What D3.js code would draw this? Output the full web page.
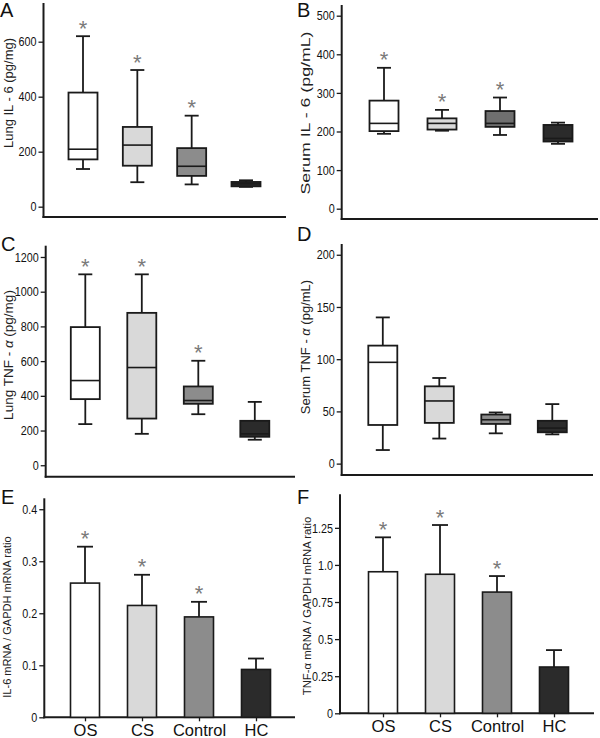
<!DOCTYPE html>
<html>
<head>
<meta charset="utf-8">
<script src="https://cdn.jsdelivr.net/npm/d3@7"></script>
<style>
body { margin: 0; background: #fff; }
text { font-family: "Liberation Sans", Arial, sans-serif; }
</style>
</head>
<body>
<div class="canvas"></div>
<script>
var groups = ["OS", "CS", "Control", "HC"];

// box plots: [min, q1, median, q3, max]
var lungIL6 = [[137, 172, 209, 415, 620], [89, 149, 224, 290, 497], [81, 112, 147, 213, 331], [72, 74, 83, 90, 96]];
var serumIL6 = [[194, 201, 221, 280, 365], [202, 205, 221, 234, 256], [191, 212, 221, 253, 288], [168, 174, 182, 217, 223]];
var lungTNF = [[237, 381, 488, 796, 1100], [181, 269, 563, 878, 1100], [294, 354, 373, 454, 602], [147, 164, 181, 256, 365]];
var serumTNF = [[13, 37, 97, 113, 140], [24, 39, 60, 74, 82], [29, 38, 42, 47, 49], [28, 30, 34, 41, 57]];

// bar charts: mean and upper error
var il6mRNA = [0.258, 0.215, 0.193, 0.092];
var il6Err = [0.070, 0.059, 0.029, 0.021];
var tnfmRNA = [0.954, 0.937, 0.817, 0.312];
var tnfErr = [0.232, 0.332, 0.108, 0.114];

var starred = [true, true, true, false];
var noStars = [false, false, false, false];

var ticksA = [0, 200, 400, 600];
var ticksB = [0, 100, 200, 300, 400, 500];
var ticksC = [0, 200, 400, 600, 800, 1000, 1200];
var ticksD = [0, 50, 100, 150, 200];
var ticksE = [0, 0.1, 0.2, 0.3, 0.4];
var tickLabelsE = ["0", "0.1", "0.2", "0.3", "0.4"];
var ticksF = [0, 0.25, 0.5, 0.75, 1.0, 1.25];
var tickLabelsF = ["0", "0.25", "0.5", "0.75", "1.0", "1.25"];

var fills = ["#ffffff", "#d9d9d9", "#8c8c8c", "#2b2b2b"];
var fillsB = ["#ffffff", "#d9d9d9", "#6f6f6f", "#2b2b2b"];

var svg;
var ink = "#1a1a1a";

function init() {
    svg = d3.select(".canvas").append("svg")
            .attr("width", 600)
            .attr("height", 738);

    boxPanel({letter: "A", lx: 0, ly: 17, ax: 43.5, right: 286, bottom: 217, top: 3,
              c0: 83, c1: 246, lo: -37.5, hi: 740.7, ticks: ticksA,
              label: ["Lung IL - 6 (pg/mg)"], labX: 12.5, labY: 93, labSize: 13},
             lungIL6, starred, fills);
    boxPanel({letter: "B", lx: 297, ly: 17, ax: 341.7, right: 598, bottom: 219, top: 5,
              c0: 384, c1: 558, lo: -26.7, hi: 527.7, ticks: ticksB,
              label: ["Serum IL - 6 (pg/mL)"], labX: 310, labY: 113, labSize: 13.5, labLen: 163},
             serumIL6, starred, fillsB);
    boxPanel({letter: "C", lx: 1, ly: 251, ax: 45.7, right: 295, bottom: 476.7, top: 245.7,
              c0: 85.3, c1: 254.8, lo: -66, hi: 1265, ticks: ticksC,
              label: ["Lung TNF - ", "α", " (pg/mg)"], labX: 12.5, labY: 355, labSize: 13.5},
             lungTNF, starred, fills);
    boxPanel({letter: "D", lx: 297, ly: 241, ax: 341.7, right: 593, bottom: 475, top: 244,
              c0: 382.8, c1: 552.3, lo: -10.9, hi: 210.3, ticks: ticksD,
              label: ["Serum TNF - ", "α", " (pg/mL)"], labX: 310, labY: 347, labSize: 13},
             serumTNF, noStars, fills);
    barPanel({letter: "E", lx: 1, ly: 504, ax: 44.3, right: 295, bottom: 717.3, top: 498.3,
              c0: 85, c1: 256, lo: 0, hi: 0.421, ticks: ticksE, tickLabels: tickLabelsE,
              label: "IL-6 mRNA / GAPDH mRNA ratio", labX: 11, labY: 617, labSize: 11},
             il6mRNA, il6Err, starred);
    barPanel({letter: "F", lx: 297, ly: 504, ax: 340, right: 594, bottom: 713.3, top: 494.3,
              c0: 383, c1: 554, lo: 0, hi: 1.476, ticks: ticksF, tickLabels: tickLabelsF,
              label: "TNF-α mRNA / GAPDH mRNA ratio", labX: 310.5, labY: 606, labSize: 11.3},
             tnfmRNA, tnfErr, starred);
}

function frame(p) {
    var g = svg.append("g");
    var y = d3.scaleLinear().domain([p.lo, p.hi]).range([p.bottom, p.top]);
    var x = d3.scalePoint().domain(groups).range([p.c0, p.c1]);

    var axis = d3.axisLeft(y)
                 .tickValues(p.ticks)
                 .tickSize(5)
                 .tickPadding(2);
    if (p.tickLabels) {
        axis.tickFormat(function (d, i) { return p.tickLabels[i]; });
    } else {
        axis.tickFormat(d3.format("d"));
    }
    var ga = g.append("g")
              .attr("transform", "translate(" + p.ax + ",0)")
              .call(axis);
    ga.select(".domain").remove();
    ga.selectAll(".tick line").attr("stroke", ink).attr("stroke-width", 1.3);
    // the figure uses a condensed face for the tick numbers
    ga.selectAll(".tick text")
      .attr("fill", "#111")
      .style("font-size", "13px")
      .style("font-family", "'Liberation Sans', Arial, sans-serif")
      .each(function () {
          var len = this.getComputedTextLength();
          d3.select(this).attr("textLength", len * 0.83).attr("lengthAdjust", "spacingAndGlyphs");
      });

    g.append("line")
     .attr("x1", p.ax).attr("x2", p.ax)
     .attr("y1", p.top).attr("y2", p.bottom + 1)
     .attr("stroke", ink).attr("stroke-width", 2);
    g.append("line")
     .attr("x1", p.ax - 1).attr("x2", p.right)
     .attr("y1", p.bottom).attr("y2", p.bottom)
     .attr("stroke", ink).attr("stroke-width", 2);

    g.append("text")
     .attr("x", p.lx)
     .attr("y", p.ly)
     .attr("fill", "#111")
     .style("font-size", "20px")
     .text(p.letter);

    var lab = g.append("text")
               .attr("transform", "translate(" + p.labX + "," + p.labY + ") rotate(-90)")
               .attr("text-anchor", "middle")
               .attr("fill", "#222")
               .style("font-size", p.labSize + "px");
    if (typeof p.label === "string") {
        lab.text(p.label);
    } else {
        p.label.forEach(function (part) {
            lab.append("tspan")
               .style("font-style", part === "α" ? "italic" : "normal")
               .text(part);
        });
    }
    if (p.labLen) {
        lab.attr("textLength", p.labLen).attr("lengthAdjust", "spacingAndGlyphs");
    }

    return {g: g, x: x, y: y};
}

function star(g, cx, cy) {
    g.append("text")
     .attr("x", cx)
     .attr("y", cy)
     .attr("text-anchor", "middle")
     .attr("fill", "#7a7a7a")
     .style("font-size", "22px")
     .text("*");
}

function boxPanel(p, data, stars, colors) {
    var f = frame(p);
    var g = f.g, x = f.x, y = f.y;
    var w = 29, cap = 14;

    data.forEach(function (b, i) {
        var cx = x(groups[i]);
        g.append("line")
         .attr("x1", cx).attr("x2", cx)
         .attr("y1", y(b[0])).attr("y2", y(b[4]))
         .attr("stroke", ink).attr("stroke-width", 1.8);
        [b[0], b[4]].forEach(function (v) {
            g.append("line")
             .attr("x1", cx - cap / 2).attr("x2", cx + cap / 2)
             .attr("y1", y(v)).attr("y2", y(v))
             .attr("stroke", ink).attr("stroke-width", 1.8);
        });
        g.append("rect")
         .attr("x", cx - w / 2)
         .attr("y", y(b[3]))
         .attr("width", w)
         .attr("height", y(b[1]) - y(b[3]))
         .attr("fill", colors[i])
         .attr("stroke", ink)
         .attr("stroke-width", 1.8);
        g.append("line")
         .attr("x1", cx - w / 2).attr("x2", cx + w / 2)
         .attr("y1", y(b[2])).attr("y2", y(b[2]))
         .attr("stroke", ink).attr("stroke-width", 1.6);
        if (stars[i]) star(g, cx, y(b[4]) - 0.5);
    });
}

function barPanel(p, means, errs, stars) {
    var f = frame(p);
    var g = f.g, x = f.x, y = f.y;
    var w = 29, cap = 16;

    var xa = g.append("g")
              .attr("transform", "translate(0," + p.bottom + ")")
              .call(d3.axisBottom(x).tickSize(4).tickPadding(3));
    xa.select(".domain").remove();
    xa.selectAll(".tick line").attr("stroke", ink).attr("stroke-width", 1.3);
    xa.selectAll(".tick text")
      .attr("fill", "#111")
      .style("font-size", "16.5px")
      .style("font-family", "'Liberation Sans', Arial, sans-serif");

    means.forEach(function (m, i) {
        var cx = x(groups[i]);
        var top = y(m + errs[i]);
        g.append("line")
         .attr("x1", cx).attr("x2", cx)
         .attr("y1", y(m)).attr("y2", top)
         .attr("stroke", ink).attr("stroke-width", 1.8);
        g.append("line")
         .attr("x1", cx - cap / 2).attr("x2", cx + cap / 2)
         .attr("y1", top).attr("y2", top)
         .attr("stroke", ink).attr("stroke-width", 1.8);
        g.append("rect")
         .attr("x", cx - w / 2)
         .attr("y", y(m))
         .attr("width", w)
         .attr("height", y(0) - y(m))
         .attr("fill", fills[i])
         .attr("stroke", ink)
         .attr("stroke-width", 1.6);
        if (stars[i]) star(g, cx, top - 0.5);
    });
}

init();
</script>
</body>
</html>
